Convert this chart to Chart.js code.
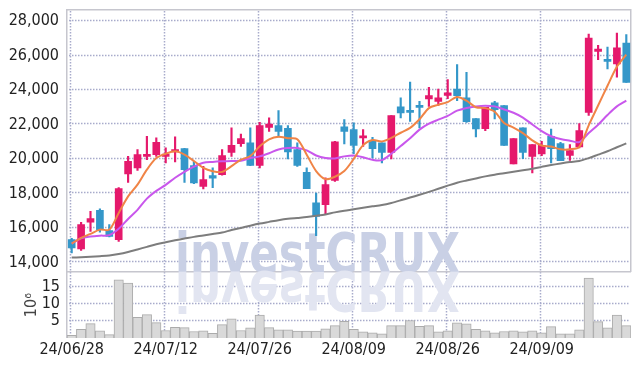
<!DOCTYPE html>
<html>
<head>
<meta charset="utf-8">
<script src="https://cdn.jsdelivr.net/npm/chart.js@4"></script>
<style>
  html, body { margin: 0; padding: 0; background: #fff; }
  canvas { display: block; }
</style>
</head>
<body>
<canvas id="myChart" width="639" height="366"></canvas>
<script>
// trading days shown on the chart
const dates = [
  '24/06/28','24/07/01','24/07/02','24/07/03','24/07/04','24/07/05','24/07/08','24/07/09','24/07/10','24/07/11',
  '24/07/12','24/07/15','24/07/16','24/07/17','24/07/18','24/07/19','24/07/22','24/07/23','24/07/24','24/07/25',
  '24/07/26','24/07/29','24/07/30','24/07/31','24/08/01','24/08/02','24/08/05','24/08/06','24/08/07','24/08/08',
  '24/08/09','24/08/12','24/08/13','24/08/14','24/08/16','24/08/19','24/08/20','24/08/21','24/08/22','24/08/23',
  '24/08/26','24/08/27','24/08/28','24/08/29','24/08/30','24/09/02','24/09/03','24/09/04','24/09/05','24/09/06',
  '24/09/09','24/09/10','24/09/11','24/09/12','24/09/13','24/09/19','24/09/20','24/09/23','24/09/24','24/09/25'
];

const opens = [
  15320,14780,16330,17020,15840,15320,19130,19480,20150,20250,
  20150,20410,20600,19610,18410,19030,19090,20380,20890,20930,
  19630,21830,21930,21770,20540,19220,17450,17350,18760,21860,
  21700,21220,21080,20930,20380,23020,22800,23050,23490,23340,
  23690,24060,23550,22340,21760,23250,23090,19710,21800,20150,
  20290,21310,20890,20210,20700,22700,26240,25760,25510,26730
];
const highs = [
  15400,16330,16960,17100,16190,18340,20150,20540,21310,21220,
  20640,21280,20620,19860,19570,19480,20540,21800,21450,21800,
  22120,22380,22800,21930,20930,19480,18020,18900,21020,22280,
  22090,21700,21250,20930,22510,23540,24460,23340,24150,24060,
  24600,25470,25020,22340,22990,23340,23090,21180,21800,20830,
  21020,21740,20960,20830,22050,27250,26590,26490,27300,27210
];
const lows = [
  14550,14700,15800,15750,15480,15220,18640,19340,19960,20150,
  19770,19830,18640,18570,18260,18340,19060,20150,20730,19610,
  19480,21600,21280,20000,19570,18280,15550,16830,18700,20870,
  20310,20730,20060,19770,20000,22380,22180,21800,23050,23110,
  23500,23380,22120,21280,21640,22320,20790,19710,20020,19190,
  20190,19770,19900,19920,20640,22530,25760,25220,24750,24440
];
const closes = [
  14840,16190,16540,15900,15510,18280,19860,20250,20230,20960,
  20290,20540,19380,18610,18800,18880,20190,20790,21180,19630,
  21930,22030,21600,20410,19630,18280,16670,18510,20990,21600,
  20790,21310,20600,20380,22510,22670,22700,22990,23670,23540,
  23830,23670,22160,21740,22990,22860,20790,21180,20380,20830,
  20790,20600,19900,20480,21640,27020,26380,25660,26440,24440
];

// moving averages
const ma5 = [
  15090,15420,15650,15900,15900,16870,17830,18510,19380,20050,
  20300,20440,20250,19880,19480,19290,19250,19580,19960,20170,
  20730,21130,21290,21200,21150,20250,19300,18830,18970,19300,
  20000,20800,21100,21020,21220,21520,21800,22300,22950,23140,
  23300,23600,23380,23000,22950,22740,22080,21820,21500,21080,
  20780,20720,20560,20560,20700,21950,23100,24250,25350,26050
];
const ma20 = [
  15090,15400,15500,15550,15580,15950,16520,17050,17700,18150,
  18500,18910,19250,19550,19780,19830,19860,19880,19900,20050,
  20150,20330,20550,20630,20640,20500,20200,20050,20030,20150,
  20200,20100,19950,19930,20300,20750,21200,21700,22050,22280,
  22500,22800,22960,23050,23090,23050,22870,22680,22400,22000,
  21620,21320,21160,21060,20980,21500,21990,22550,23050,23380
];
const ma60 = [
  14280,14300,14330,14360,14400,14480,14600,14750,14900,15050,
  15170,15280,15380,15480,15560,15650,15730,15880,16000,16130,
  16250,16350,16450,16530,16580,16630,16700,16780,16900,17000,
  17080,17170,17250,17330,17450,17600,17760,17920,18090,18270,
  18450,18620,18750,18870,18990,19090,19170,19260,19340,19430,
  19540,19650,19740,19820,19880,20050,20250,20450,20680,20900
];

// volume, millions of shares
const volumes = [
  0.8,2.5,4.2,2.1,1.0,17.0,16.0,6.0,6.8,4.5,
  2.2,3.1,3.05,1.9,2.1,1.35,3.9,5.6,2.2,3.0,
  6.7,3.05,2.4,2.4,2.0,2.0,2.0,2.7,3.6,4.9,
  2.5,1.8,1.5,1.2,3.6,3.6,5.1,3.4,3.6,1.8,
  2.1,4.4,4.1,2.5,2.1,1.5,1.9,2.1,1.8,2.1,
  1.5,3.3,1.2,1.2,2.4,17.5,4.8,3.0,6.7,3.6
];

const priceTicks = [14000, 16000, 18000, 20000, 22000, 24000, 26000, 28000];
const volumeTicks = [5, 10, 15];

const UP = '#e5196c';
const DOWN = '#3497c9';
const gridColor = '#a8abcb';
const frameColor = '#c6c6ce';
const labelFont = { family: '"Liberation Sans Narrow", "DejaVu Sans Condensed", sans-serif', size: 16 };

const wicks = lows.map((l, i) => [l, highs[i]]);
const bodies = opens.map((o, i) => [Math.min(o, closes[i]), Math.max(o, closes[i])]);
const candleColors = opens.map((o, i) => closes[i] >= o ? UP : DOWN);

// dotted grid, outer frame and the line between the two panes, under the marks
const panes = {
  id: 'panes',
  beforeDatasetsDraw(chart) {
    const ctx = chart.ctx;
    const a = chart.chartArea;
    const x = chart.scales.x;
    const y = chart.scales.y;
    const yv = chart.scales.yv;
    const left = Math.round(a.left);
    const right = Math.round(a.right);
    const top = Math.round(a.top);
    const bottom = Math.round(a.bottom);
    ctx.save();
    ctx.fillStyle = gridColor;
    const rows = priceTicks.map(v => Math.round(y.getPixelForValue(v)) - 1)
      .concat(volumeTicks.map(v => Math.round(yv.getPixelForValue(v)) - 1));
    rows.forEach(py => {
      for (let px = left + 2; px < right - 1; px += 3) ctx.fillRect(px, py - 0.25, 1.5, 1.5);
    });
    dates.forEach((d, i) => {
      if (i % 10 !== 0) return;
      const px = Math.round(x.getPixelForValue(i)) - 2;
      for (let py = top + 2; py < bottom - 1; py += 3) ctx.fillRect(px - 0.25, py, 1.5, 1.5);
    });
    ctx.fillStyle = frameColor;
    ctx.fillRect(left, top, right - left, 1.5);
    ctx.fillRect(left - 1, top, 1.5, bottom - top);
    ctx.fillRect(right - 1, top, 1.5, Math.round(y.bottom) - top);
    ctx.fillRect(left, Math.round(y.bottom) - 1, right - left, 1.5);
    ctx.restore();
  }
};

// watermark with its reflection, behind the marks
const watermark = {
  id: 'watermark',
  beforeDatasetsDraw(chart) {
    const ctx = chart.ctx;
    const y = chart.scales.y;
    const text = 'investCRUX';
    ctx.save();
    ctx.font = 'bold 56px "DejaVu Sans", sans-serif';
    const w = ctx.measureText(text).width;
    ctx.translate(175, y.bottom);
    ctx.scale(285 / w, 1);
    ctx.fillStyle = '#c9d0e5';
    ctx.fillText(text, 0, 0);
    ctx.scale(1, -1);
    ctx.fillStyle = '#e2e5f1';
    ctx.fillText(text, 0, 0);
    ctx.restore();
  }
};

const ctx = document.getElementById('myChart').getContext('2d');

new Chart(ctx, {
  data: {
    labels: dates,
    datasets: [
      { type: 'line', data: ma5, yAxisID: 'y', borderColor: '#f08446', borderWidth: 2, pointRadius: 0, tension: 0.3, order: 0 },
      { type: 'line', data: ma20, yAxisID: 'y', borderColor: '#c957ec', borderWidth: 2, pointRadius: 0, tension: 0.3, order: 0 },
      { type: 'line', data: ma60, yAxisID: 'y', borderColor: '#7d7d7d', borderWidth: 2, pointRadius: 0, tension: 0.3, order: 0 },
      { type: 'bar', data: bodies, yAxisID: 'y', backgroundColor: candleColors, barThickness: 7, minBarLength: 2, grouped: false, order: 1 },
      { type: 'bar', data: wicks, yAxisID: 'y', backgroundColor: candleColors, barThickness: 1.5, grouped: false, order: 2 },
      { type: 'bar', data: volumes, yAxisID: 'yv', backgroundColor: '#d9d9d9', borderColor: '#ababab', borderWidth: 1,
        barPercentage: 1, categoryPercentage: 1, grouped: false, order: 3 }
    ]
  },
  options: {
    responsive: false,
    animation: false,
    layout: { padding: { top: 9, right: 8, bottom: 0, left: 0 } },
    plugins: {
      legend: { display: false },
      tooltip: { enabled: false }
    },
    scales: {
      x: {
        offset: true,
        grid: { display: false, drawTicks: false },
        border: { display: false },
        afterFit: s => { s.height = 28; s.paddingLeft = 0; s.paddingRight = 0; },
        ticks: {
          autoSkip: false,
          maxRotation: 0,
          padding: 2,
          color: '#222',
          font: labelFont,
          callback: (v, i) => (i % 10 === 0 ? dates[i] : '')
        }
      },
      yv: {
        position: 'left',
        stack: 'panes',
        stackWeight: 1,
        weight: 0,
        min: 0,
        max: 19.2,
        afterBuildTicks: s => { s.ticks = volumeTicks.map(v => ({ value: v })); },
        afterFit: s => { s.width = 67; s.paddingTop = 0; s.paddingBottom = 0; },
        grid: { display: false, drawTicks: false },
        border: { display: false },
        ticks: { autoSkip: false, padding: 7, color: '#222', font: labelFont },
        title: { display: true, text: '10⁶', color: '#444', font: { family: labelFont.family, size: 16 }, padding: { top: 22 } }
      },
      y: {
        position: 'left',
        stack: 'panes',
        stackWeight: 4,
        weight: 1,
        min: 13430,
        max: 28700,
        afterBuildTicks: s => { s.ticks = priceTicks.map(v => ({ value: v })); },
        afterFit: s => { s.width = 67; s.paddingTop = 0; s.paddingBottom = 0; },
        grid: { display: false, drawTicks: false },
        border: { display: false },
        ticks: {
          autoSkip: false,
          padding: 8,
          color: '#222',
          font: labelFont,
          callback: v => v.toLocaleString('en-US')
        }
      }
    }
  },
  plugins: [panes, watermark]
});
</script>
</body>
</html>
